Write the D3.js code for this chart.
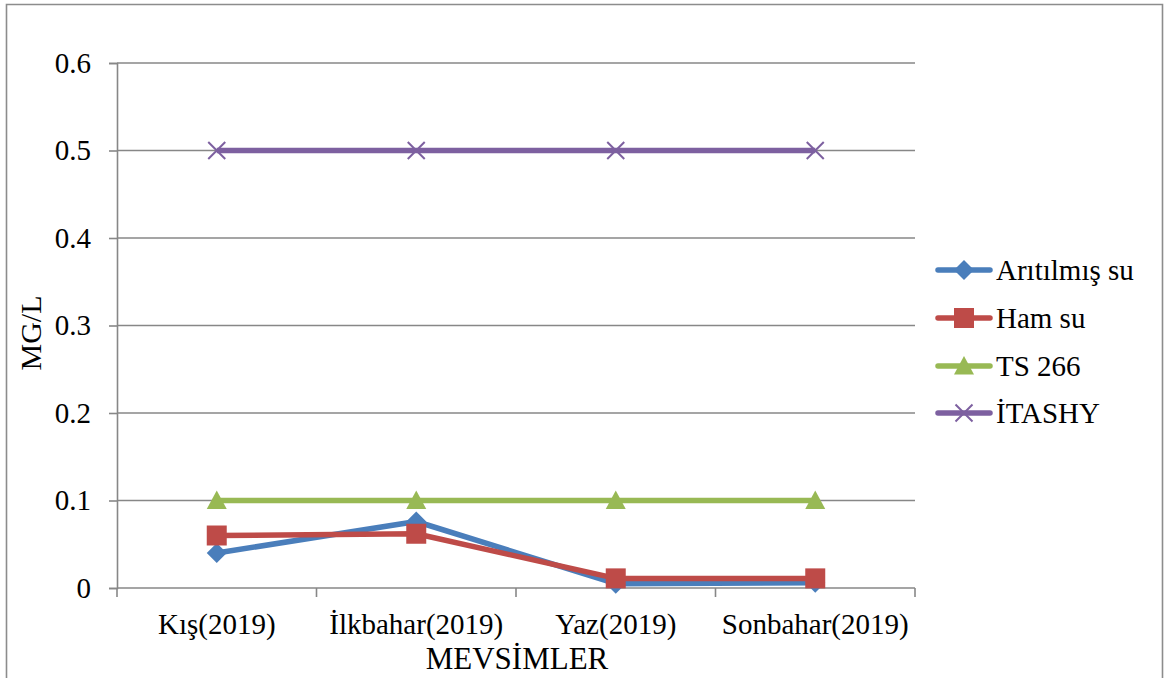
<!DOCTYPE html>
<html>
<head>
<meta charset="utf-8">
<script src="https://cdn.jsdelivr.net/npm/d3@7"></script>
<style>
  html, body { margin: 0; padding: 0; background: #fff; }
  svg text { font-family: "Liberation Serif", "Times New Roman", serif; fill: #000; }
</style>
</head>
<body>
<svg id="chart" width="1170" height="678"></svg>
<script>
// Seasons on the x axis
const categories = ["Kış(2019)", "İlkbahar(2019)", "Yaz(2019)", "Sonbahar(2019)"];

// Measured and limit values, mg/L
const aritilmisSu = [0.04, 0.076, 0.005, 0.006];
const hamSu = [0.06, 0.062, 0.011, 0.011];
const ts266 = [0.1, 0.1, 0.1, 0.1];
const itashy = [0.5, 0.5, 0.5, 0.5];

const seriesNames = ["Arıtılmış su", "Ham su", "TS 266", "İTASHY"];
const yTicks = [0, 0.1, 0.2, 0.3, 0.4, 0.5, 0.6];

const series = [
  { name: seriesNames[0], values: aritilmisSu, color: "#4A7EBB", marker: "diamond" },
  { name: seriesNames[1], values: hamSu, color: "#BE4B48", marker: "square" },
  { name: seriesNames[2], values: ts266, color: "#98B954", marker: "triangle" },
  { name: seriesNames[3], values: itashy, color: "#7D60A0", marker: "cross" }
];

const svg = d3.select("#chart");
const gridColor = "#878787";
const tickFont = 29;
const lineWidth = 5.5;

// Outer frame
svg.append("path")
  .attr("d", "M6.5,690 L6.5,4.5 L1162.5,4.5 L1162.5,690")
  .attr("fill", "none").attr("stroke", "#8c8c8c").attr("stroke-width", 1.6);

const plot = { left: 117, right: 915, top: 63, bottom: 588 };

const x = d3.scaleBand().domain(categories).range([plot.left, plot.right]).padding(0);
const y = d3.scaleLinear().domain([0, 0.6]).range([plot.bottom, plot.top]);
const cx = c => x(c) + x.bandwidth() / 2;

// Horizontal gridlines
svg.append("g").selectAll("line").data(yTicks.filter(t => t > 0)).join("line")
  .attr("x1", plot.left).attr("x2", plot.right)
  .attr("y1", d => y(d)).attr("y2", d => y(d))
  .attr("stroke", gridColor).attr("stroke-width", 1.6);

// Y axis
const yAxis = svg.append("g").attr("transform", `translate(${plot.left},0)`)
  .call(d3.axisLeft(y).tickValues(yTicks).tickSize(8).tickPadding(18)
    .tickFormat(d => d === 0 ? "0" : d3.format(".1f")(d)));
yAxis.select(".domain").attr("stroke", gridColor).attr("stroke-width", 1.6);
yAxis.selectAll(".tick line").attr("stroke", gridColor).attr("stroke-width", 1.6);
yAxis.selectAll(".tick text").attr("font-size", tickFont).attr("fill", "#000");

// X axis with tick marks at category boundaries
const xAxisG = svg.append("g").attr("transform", `translate(0,${plot.bottom})`);
xAxisG.append("line").attr("x1", plot.left).attr("x2", plot.right)
  .attr("stroke", gridColor).attr("stroke-width", 1.6);
const boundaries = categories.map(c => x(c)).concat([x(categories[categories.length - 1]) + x.bandwidth()]);
xAxisG.selectAll("line.tk").data(boundaries).join("line").attr("class", "tk")
  .attr("x1", d => d).attr("x2", d => d).attr("y1", 0).attr("y2", 9)
  .attr("stroke", gridColor).attr("stroke-width", 1.6);
xAxisG.selectAll("text").data(categories).join("text")
  .attr("x", d => cx(d)).attr("y", 46)
  .attr("text-anchor", "middle").attr("font-size", tickFont).text(d => d);

// Axis titles
svg.append("text").attr("x", 517).attr("y", 669).attr("text-anchor", "middle")
  .attr("font-size", 31).text("MEVSİMLER");
svg.append("text").attr("transform", "translate(41,333) rotate(-90)")
  .attr("text-anchor", "middle").attr("font-size", 30).text("MG/L");

// Marker shapes
function markerPath(type) {
  switch (type) {
    case "diamond": return "M0,-10 L10,0 L0,10 L-10,0 Z";
    case "square": return "M-10,-10 L10,-10 L10,10 L-10,10 Z";
    case "triangle": return "M0,-10 L10,8.5 L-10,8.5 Z";
    case "cross": return "M-8.5,-8.5 L8.5,8.5 M-8.5,8.5 L8.5,-8.5";
  }
}
function drawMarker(g, type, color) {
  const p = g.append("path").attr("d", markerPath(type));
  if (type === "cross") p.attr("fill", "none").attr("stroke", color).attr("stroke-width", 2);
  else p.attr("fill", color);
}

const line = d3.line().x((d, i) => cx(categories[i])).y(d => y(d));

// Draw the limit lines first, then the measured series on top
const drawOrder = [series[3], series[2], series[0], series[1]];
drawOrder.forEach(s => {
  svg.append("path").datum(s.values).attr("d", line)
    .attr("fill", "none").attr("stroke", s.color).attr("stroke-width", lineWidth)
    .attr("stroke-linejoin", "round");
  s.values.forEach((v, i) => {
    const g = svg.append("g").attr("transform", `translate(${cx(categories[i])},${y(v)})`);
    drawMarker(g, s.marker, s.color);
  });
});

// Legend
const legend = svg.append("g");
const legendRows = [270, 318, 366, 413];
series.forEach((s, i) => {
  const g = legend.append("g").attr("transform", `translate(0,${legendRows[i]})`);
  g.append("line").attr("x1", 938).attr("x2", 990).attr("y1", 0).attr("y2", 0)
    .attr("stroke", s.color).attr("stroke-width", lineWidth).attr("stroke-linecap", "round");
  const m = g.append("g").attr("transform", "translate(964,0)");
  drawMarker(m, s.marker, s.color);
  g.append("text").attr("x", 996).attr("y", 10).attr("font-size", tickFont).text(s.name);
});
</script>
</body>
</html>
